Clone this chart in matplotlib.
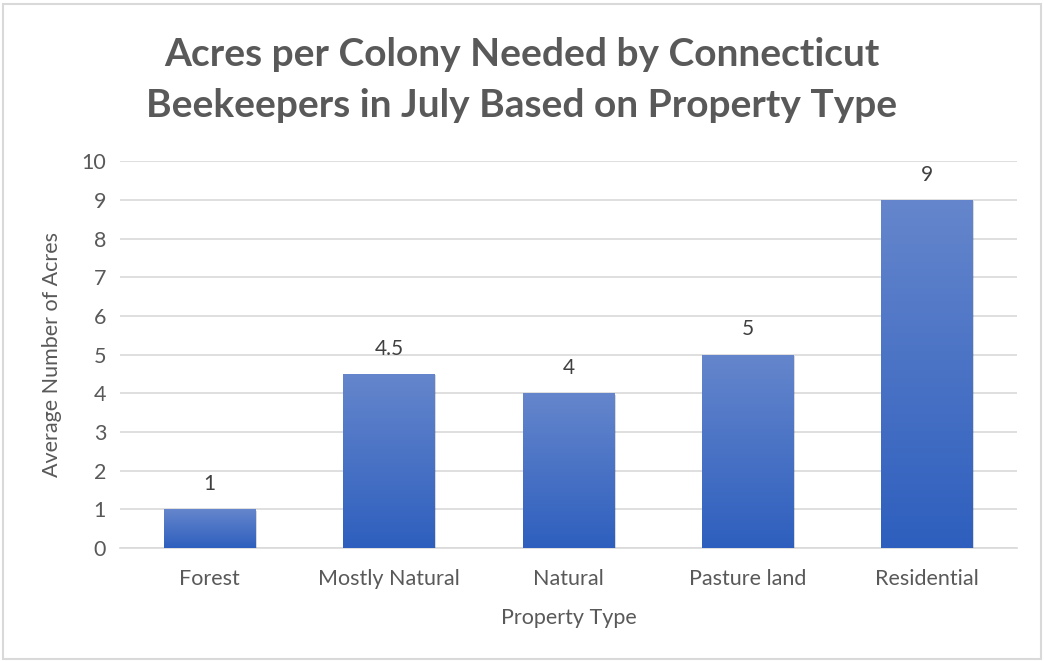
import numpy as np
import matplotlib.pyplot as plt
import matplotlib.patheffects as pe
from matplotlib.patches import Rectangle
from matplotlib.colors import LinearSegmentedColormap

categories = ['Forest', 'Mostly Natural', 'Natural', 'Pasture land', 'Residential']
acres = [1, 4.5, 4, 5, 9]
value_labels = ['1', '4.5', '4', '5', '9']

plt.rcParams['font.family'] = ['Lato', 'DejaVu Sans']
grey = '#595959'

fig = plt.figure(figsize=(10.44, 6.61), dpi=100)
ax = fig.add_axes([0.115, 0.171, 0.859, 0.585])

# chart border
fig.patches.append(Rectangle((0.003, 0.003), 0.994, 0.991, transform=fig.transFigure,
                             fill=False, edgecolor='#D9D9D9', linewidth=1.5))

x = np.arange(len(categories))
bars = ax.bar(x, acres, width=0.51, color='#4472C4', zorder=3,
              path_effects=[pe.SimplePatchShadow(offset=(1, -1), shadow_rgbFace='#000000', alpha=0.15),
                            pe.Normal()])

# vertical gradient fill like the Excel preset
grad = np.linspace(0, 1, 256).reshape(-1, 1)
cmap = LinearSegmentedColormap.from_list('bar', ['#2E5FBE', '#6586CC'])
for b in bars:
    x0, w, h = b.get_x(), b.get_width(), b.get_height()
    im = ax.imshow(grad, extent=(x0, x0 + w, 0, h), origin='lower', cmap=cmap,
                   aspect='auto', zorder=4, interpolation='bilinear')
    im.set_clip_path(b)

for xi, v, lab in zip(x, acres, value_labels):
    ax.annotate(lab, (xi, v), xytext=(0, 11), textcoords='offset points',
                ha='center', va='bottom', fontsize=15, color='#404040')

ax.set_xlim(-0.5, len(categories) - 0.5)
ax.set_ylim(0, 10)
ax.set_yticks(range(0, 11))
ax.set_xticks(x)
ax.set_xticklabels(categories)
ax.tick_params(axis='y', length=0, labelsize=15.5, labelcolor=grey, pad=10)
ax.tick_params(axis='x', length=0, labelsize=15.5, labelcolor=grey, pad=15)
ax.grid(axis='y', color='#D9D9D9', linewidth=1.2, zorder=0)
ax.set_axisbelow(True)
for s in ['top', 'right', 'left']:
    ax.spines[s].set_visible(False)
ax.spines['bottom'].set_color('#D9D9D9')
ax.spines['bottom'].set_linewidth(1.2)

ax.set_xlabel('Property Type', fontsize=15.5, color=grey, labelpad=14)
ax.set_ylabel('Average Number of Acres', fontsize=15.5, color=grey, labelpad=14)

fig.text(0.5, 0.879, 'Acres per Colony Needed by Connecticut\nBeekeepers in July Based on Property Type',
         ha='center', va='center', fontsize=28, fontweight='bold', color=grey, linespacing=1.52)

fig.savefig('out.png', dpi=100)
